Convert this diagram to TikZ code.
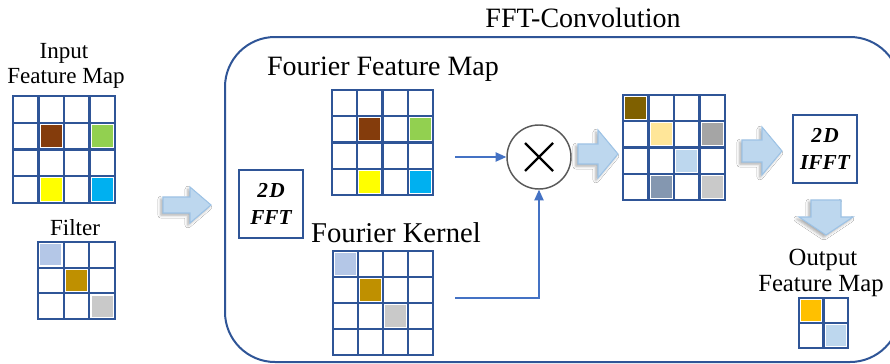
\documentclass[tikz,border=0pt]{standalone}
\usepackage{fontspec}
\setmainfont{Liberation Serif}
\usetikzlibrary{arrows.meta,shadows.blur}
\definecolor{gridblue}{HTML}{2F5597}
\definecolor{linkblue}{HTML}{4472C4}
\definecolor{arrfill}{HTML}{BDD7EE}
\definecolor{arrdraw}{HTML}{9DC3E6}
\definecolor{circgray}{HTML}{595959}
\definecolor{cbrown}{HTML}{843C0C}
\definecolor{cgreen}{HTML}{92D050}
\definecolor{cyellow}{HTML}{FFFF00}
\definecolor{ccyan}{HTML}{00B0F0}
\definecolor{clblue}{HTML}{B4C7E7}
\definecolor{cgold}{HTML}{BF9000}
\definecolor{cgray}{HTML}{C9C9C9}
\definecolor{colive}{HTML}{7F6000}
\definecolor{cpale}{HTML}{FFE699}
\definecolor{cmgray}{HTML}{A5A5A5}
\definecolor{cskyblue}{HTML}{BDD7EE}
\definecolor{cslate}{HTML}{8497B0}
\definecolor{corange}{HTML}{FFC000}
\tikzset{
  gline/.style={draw=gridblue, line width=1.7pt},
  gridbox/.style={draw=gridblue, line width=1.7pt, inner sep=0pt, rectangle},
  opbox/.style={draw=gridblue, line width=1.5pt, inner sep=0pt, rectangle,
     minimum width=48pt, minimum height=51pt, align=center,
     font=\fontsize{16}{20.5}\selectfont\bfseries\itshape},
  bigbox/.style={draw=gridblue, line width=1.5pt, inner sep=0pt, rectangle, rounded corners=37.5pt},
  barrow/.style={fill=arrfill, draw=arrdraw, line width=0.8pt,
     blur shadow={shadow xshift=-1.6pt, shadow yshift=-1.6pt, shadow blur radius=2.2pt, shadow opacity=35}},
  link/.style={draw=linkblue, line width=0.9pt, -{Triangle[length=8pt,width=7pt]}},
  lbl/.style={inner sep=0pt, anchor=base}
}
% grid helpers (pixel units)
\newcommand\mygridlines[6]{% x0 y0 cw ch ncol nrow
  \foreach \i in {1,...,\numexpr#5-1\relax} \draw[gline] ({#1+\i*#3},#2) -- ({#1+\i*#3},{#2+#6*#4});
  \foreach \j in {1,...,\numexpr#6-1\relax} \draw[gline] (#1,{#2+\j*#4}) -- ({#1+#5*#3},{#2+\j*#4});
}
\newcommand\mycell[7]{% x0 y0 cw ch col row color
  \fill[#7] ({#1+(#5-1)*#3+2.2},{#2+(#6-1)*#4+2.2}) rectangle ++({#3-4.4},{#4-4.4});
}
\newcommand\myrblock[6]{% x0 x1 xh cy shafthalf headhalf
  \path[barrow] (#1,{#4-#5}) -- (#3,{#4-#5}) -- (#3,{#4-#6}) -- (#2,#4) -- (#3,{#4+#6}) -- (#3,{#4+#5}) -- (#1,{#4+#5}) -- cycle;
}
\newcommand\mydblock[6]{% y0 y1 yh cx shafthalf headhalf
  \path[barrow] ({#4-#5},#1) -- ({#4+#5},#1) -- ({#4+#5},#3) -- ({#4+#6},#3) -- (#4,#2) -- ({#4-#6},#3) -- ({#4-#5},#3) -- cycle;
}
\begin{document}
\begin{tikzpicture}[x=0.75pt,y=-0.75pt]
\useasboundingbox (0,0) rectangle (890,364);
\clip (0,0) rectangle (890,364);
\fill[white] (0,0) rectangle (890,364);

% big FFT-convolution frame
\node[bigbox, minimum width=506.25pt, minimum height=243.75pt] (frame) at (562.5,199.5) {};
\node[lbl, font=\fontsize{21}{24}\selectfont] (title) at (583,27) {FFT-Convolution};

% ---------- Input feature map ----------
\node[lbl, font=\fontsize{17.3}{20}\selectfont] (inlbl1) at (64,58) {Input};
\node[lbl, font=\fontsize{17.3}{20}\selectfont] (inlbl2) at (66,83) {Feature Map};
\mycell{13}{96}{25.5}{26.75}{2}{2}{cbrown}
\mycell{13}{96}{25.5}{26.75}{4}{2}{cgreen}
\mycell{13}{96}{25.5}{26.75}{2}{4}{cyellow}
\mycell{13}{96}{25.5}{26.75}{4}{4}{ccyan}
\mygridlines{13}{96}{25.5}{26.75}{4}{4}
\node[gridbox, minimum width=76.5pt, minimum height=80.25pt] (ingrid) at (64,149.5) {};

% ---------- Filter ----------
\node[lbl, font=\fontsize{17.3}{20}\selectfont] (filtlbl) at (75,235) {Filter};
\mycell{38}{242}{25.67}{25.67}{1}{1}{clblue}
\mycell{38}{242}{25.67}{25.67}{2}{2}{cgold}
\mycell{38}{242}{25.67}{25.67}{3}{3}{cgray}
\mygridlines{38}{242}{25.67}{25.67}{3}{3}
\node[gridbox, minimum width=57.75pt, minimum height=57.75pt] (filtgrid) at (76.5,280.5) {};

% arrow into frame
\myrblock{163}{211}{190}{205}{8}{18}

% ---------- 2D FFT ----------
\node[opbox] (fft) at (271,204) {2\kern1pt D\\FFT};

% ---------- Fourier feature map ----------
\node[lbl, font=\fontsize{21}{24}\selectfont] (ffmlbl) at (383,75) {Fourier Feature Map};
\mycell{332}{90}{25.25}{26.25}{2}{2}{cbrown}
\mycell{332}{90}{25.25}{26.25}{4}{2}{cgreen}
\mycell{332}{90}{25.25}{26.25}{2}{4}{cyellow}
\mycell{332}{90}{25.25}{26.25}{4}{4}{ccyan}
\mygridlines{332}{90}{25.25}{26.25}{4}{4}
\node[gridbox, minimum width=75.75pt, minimum height=78.75pt] (ffmgrid) at (382.5,142.5) {};

% ---------- Fourier kernel ----------
\node[lbl, font=\fontsize{21.5}{24}\selectfont] (fklbl) at (396,242) {Fourier Kernel};
\mycell{333}{251}{25}{26}{1}{1}{clblue}
\mycell{333}{251}{25}{26}{2}{2}{cgold}
\mycell{333}{251}{25}{26}{3}{3}{cgray}
\mygridlines{333}{251}{25}{26}{4}{4}
\node[gridbox, minimum width=75pt, minimum height=78pt] (fkgrid) at (383,303) {};

% ---------- multiplication ----------
\node[circle, draw=circgray, line width=1.1pt, minimum size=48pt, inner sep=0pt] (mul) at (539,157) {};
\draw[line width=1.6pt] ([shift={(-14,-14)}]mul.center) -- ([shift={(14,14)}]mul.center);
\draw[line width=1.6pt] ([shift={(-14,14)}]mul.center) -- ([shift={(14,-14)}]mul.center);
\coordinate (ffmout) at (455,157);
\coordinate (fkout) at (455,298);
\draw[link] (ffmout) -- (mul.west);
\draw[link] (fkout) -| (mul.south);

\myrblock{578}{618}{598}{154}{10}{24}

% ---------- product grid ----------
\mycell{623}{95}{25.5}{26.25}{1}{1}{colive}
\mycell{623}{95}{25.5}{26.25}{2}{2}{cpale}
\mycell{623}{95}{25.5}{26.25}{4}{2}{cmgray}
\mycell{623}{95}{25.5}{26.25}{3}{3}{cskyblue}
\mycell{623}{95}{25.5}{26.25}{2}{4}{cslate}
\mycell{623}{95}{25.5}{26.25}{4}{4}{cgray}
\mygridlines{623}{95}{25.5}{26.25}{4}{4}
\node[gridbox, minimum width=76.5pt, minimum height=78.75pt] (prodgrid) at (674,147.5) {};

\myrblock{742}{782}{762}{151}{11}{24}

% ---------- 2D IFFT ----------
\node[opbox] (ifft) at (825,149) {2\kern1pt D\\IFFT};

\mydblock{200}{235}{217}{826}{15}{27}

% ---------- Output feature map ----------
\node[lbl, font=\fontsize{18.5}{22}\selectfont] (outlbl1) at (823,265) {Output};
\node[lbl, font=\fontsize{18.5}{22}\selectfont] (outlbl2) at (821,291) {Feature Map};
\mycell{799}{298}{24.5}{25}{1}{1}{corange}
\mycell{799}{298}{24.5}{25}{2}{2}{cskyblue}
\mygridlines{799}{298}{24.5}{25}{2}{2}
\node[gridbox, minimum width=36.75pt, minimum height=37.5pt] (outgrid) at (823.5,323) {};
\end{tikzpicture}
\end{document}
